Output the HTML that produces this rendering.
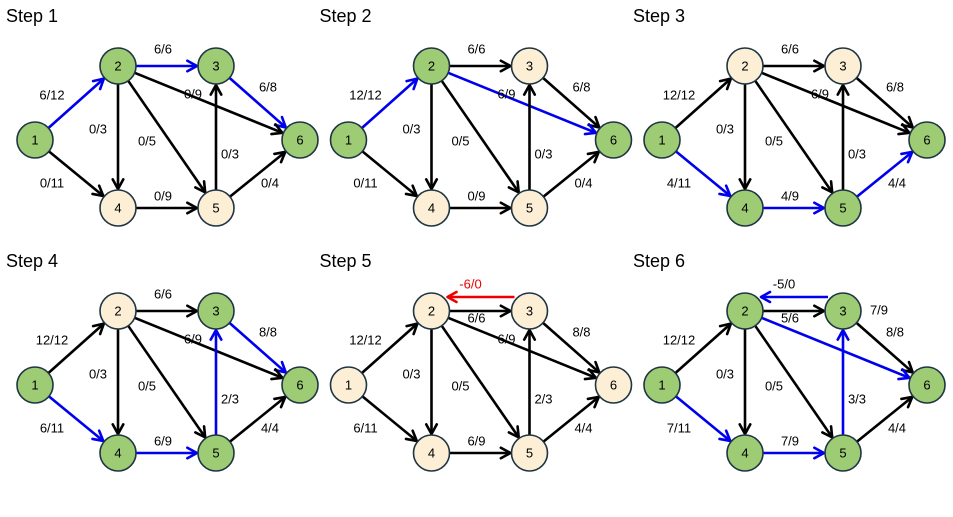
<!DOCTYPE html>
<html><head><meta charset="utf-8"><style>
body{margin:0;background:#fff;width:953px;height:512px;overflow:hidden}
svg text{font-family:"Liberation Sans",sans-serif}
</style></head><body>
<svg id="s" width="953" height="512" xmlns="http://www.w3.org/2000/svg"></svg>
<script>
const N={1:[35,140],2:[118,66],3:[216,66],4:[118,208],5:[216,208],6:[300,140]};
const R=18;
const E=[['1','2',52,96],['2','3',163,50],['3','6',268,88],['2','6',193,95],['2','4',98,130],['2','5',147,142],['5','3',230,155],['1','4',52,184],['4','5',163,197],['5','6',270,184]];
const steps=[
{g:'1236',b:['12','23','36'],l:['6/12','6/6','6/8','0/9','0/3','0/5','0/3','0/11','0/9','0/4']},
{g:'126',b:['12','26'],l:['12/12','6/6','6/8','6/9','0/3','0/5','0/3','0/11','0/9','0/4']},
{g:'1456',b:['14','45','56'],l:['12/12','6/6','6/8','6/9','0/3','0/5','0/3','4/11','4/9','4/4']},
{g:'13456',b:['14','45','53','36'],l:['12/12','6/6','8/8','6/9','0/3','0/5','2/3','6/11','6/9','4/4']},
{g:'',b:[],l:['12/12','6/6','8/8','6/9','0/3','0/5','2/3','6/11','6/9','4/4'],rev:['-6/0','red'],p23:[163,74]},
{g:'123456',b:['14','45','53','26'],l:['12/12','5/6','8/8','7/9','0/3','0/5','3/3','7/11','7/9','4/4'],rev:['-5/0','blue'],p23:[163,74],p26:[252,66]}
];
let h='',t='';
function arrow(x1,y1,x2,y2,c){
 const dx=x2-x1,dy=y2-y1,L=Math.hypot(dx,dy),ux=dx/L,uy=dy/L;
 const ax=x1+ux*R,ay=y1+uy*R,bx=x2-ux*(R+1),by=y2-uy*(R+1);
 const a=0.5,s=11;
 const p1=[bx-s*(ux*Math.cos(a)-uy*Math.sin(a)),by-s*(uy*Math.cos(a)+ux*Math.sin(a))];
 const p2=[bx-s*(ux*Math.cos(a)+uy*Math.sin(a)),by-s*(uy*Math.cos(a)-ux*Math.sin(a))];
 h+=`<line x1="${ax}" y1="${ay}" x2="${bx}" y2="${by}" stroke="${c}" stroke-width="2.6"/>`;
 h+=`<polyline points="${p1} ${bx},${by} ${p2}" fill="none" stroke="${c}" stroke-width="2.6" stroke-linecap="round" stroke-linejoin="round"/>`;
}
steps.forEach((st,i)=>{
 const ox=(i%3)*313.5, oy=Math.floor(i/3)*245;
 t+=`<text x="${ox+6}" y="${oy+22}" font-size="18">Step ${i+1}</text>`;
 E.forEach((e,k)=>{
  const [a,b]=[e[0],e[1]];
  const c=st.b.includes(a+b)?'#0000ee':'#000';
  arrow(ox+N[a][0],oy+N[a][1],ox+N[b][0],oy+N[b][1],c);
  let lx=e[2],ly=e[3];
  if(a+b=='26'&&st.p26){lx=st.p26[0];ly=st.p26[1];}
  if(a+b=='23'&&st.p23){lx=st.p23[0];ly=st.p23[1];}
  t+=`<text x="${ox+lx}" y="${oy+ly}" font-size="13" text-anchor="middle" dominant-baseline="middle">${st.l[k]}</text>`;
 });
 if(st.rev){
  const c=st.rev[1]=='red'?'#ee0000':'#0000ee';
  const y=oy+52;
  const x1=ox+201,x2=ox+134;
  h+=`<line x1="${x1}" y1="${y}" x2="${x2}" y2="${y}" stroke="${c}" stroke-width="2.6"/>`;
  h+=`<polyline points="${x2+9},${y-5} ${x2},${y} ${x2+9},${y+5}" fill="none" stroke="${c}" stroke-width="2.6" stroke-linecap="round" stroke-linejoin="round"/>`;
  t+=`<text x="${ox+157}" y="${oy+40}" font-size="13" text-anchor="middle" dominant-baseline="middle" fill="${st.rev[1]=='red'?'#ee0000':'#000'}">${st.rev[0]}</text>`;
 }
 for(const n in N){
  const f=st.g.includes(n)?'#9dcc75':'#fcefd5';
  h+=`<circle cx="${ox+N[n][0]}" cy="${oy+N[n][1]}" r="${R}" fill="${f}" stroke="#1f3544" stroke-width="1.6"/>`;
  h+=`<text x="${ox+N[n][0]}" y="${oy+N[n][1]+1}" font-size="13" text-anchor="middle" dominant-baseline="middle">${n}</text>`;
 }
});
document.getElementById('s').innerHTML=h+t;
</script>
</body></html>
